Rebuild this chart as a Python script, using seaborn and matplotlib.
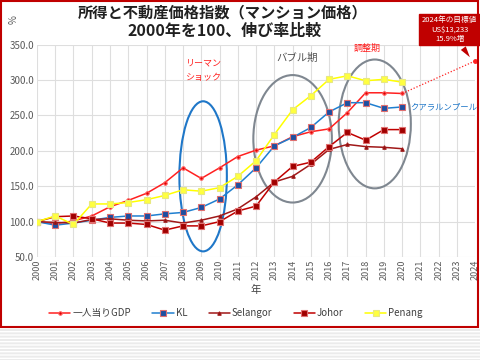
import pandas as pd
import matplotlib.pyplot as plt
import seaborn as sns
from matplotlib.patches import Ellipse, Rectangle

years = list(range(2000, 2021))
gdp = [100, 97, 101, 108, 121, 130, 140, 155, 176, 161, 176, 192, 201, 207, 220, 227, 231, 254, 282, 282, 281]
kl = [100, 95, 98, 102, 106, 108, 108, 111, 113, 120, 132, 152, 176, 207, 219, 233, 255, 268, 268, 260, 262]
selangor = [100, 99, 98, 103, 104, 102, 101, 102, 98, 102, 108, 118, 135, 156, 164, 181, 202, 209, 206, 205, 203]
johor = [100, 107, 108, 104, 98, 98, 96, 88, 94, 94, 100, 115, 122, 156, 178, 184, 206, 226, 215, 230, 230]
penang = [100, 108, 96, 125, 125, 127, 131, 137, 145, 143, 148, 164, 186, 223, 258, 278, 301, 306, 299, 301, 297]
target_years = [2020, 2024]
target_gdp = [281, 327]
xticks = list(range(2000, 2025))
yticks = [50, 100, 150, 200, 250, 300, 350]

series = {
    "一人当りGDP": gdp,
    "KL": kl,
    "Selangor": selangor,
    "Johor": johor,
    "Penang": penang,
}
styles = {
    "一人当りGDP": dict(color="#ff2020", marker="o", ms=2.5, mfc="#e00000", mec="#ff6060"),
    "KL": dict(color="#1f7fd0", marker="s", ms=4, mfc="#1f4fa0", mec="#e07070"),
    "Selangor": dict(color="#a01818", marker="^", ms=2.5, mfc="#801010", mec="#a01818"),
    "Johor": dict(color="#c00000", marker="s", ms=5, mfc="#a00000", mec="#e07070"),
    "Penang": dict(color="#ffff00", marker="s", ms=5, mfc="#ffff40", mec="#e8e880"),
}

sns.set_style("whitegrid")
plt.rcParams['font.family'] = ['Noto Sans CJK JP', 'DejaVu Sans']
plt.rcParams['hatch.linewidth'] = 1.0

fig = plt.figure(figsize=(4.8, 3.6), dpi=100)
ax = fig.add_axes([0.077, 0.286, 0.913, 0.59])

for name, vals in series.items():
    df = pd.DataFrame({"year": years, "value": vals})
    st = styles[name]
    sns.lineplot(data=df, x="year", y="value", ax=ax, color=st["color"], lw=1.1,
                 marker=st["marker"], markersize=st["ms"], markerfacecolor=st["mfc"],
                 markeredgecolor=st["mec"], markeredgewidth=0.8, label=name)

# dotted target extension
ax.plot(target_years, target_gdp, color="#ff2020", lw=0.9, ls=(0, (1, 1.5)))
ax.plot(target_years[-1:], target_gdp[-1:], "o", color="#ff2020", ms=2.5, clip_on=False)

ax.set_xlim(2000, 2024)
ax.set_ylim(50, 350)
ax.set_xticks(xticks)
ax.set_xticklabels([str(y) for y in xticks], rotation=90, fontsize=6.5, color="#595959")
ax.set_yticks(yticks)
ax.set_yticklabels([f"{v:.1f}" for v in yticks], fontsize=7, color="#595959")
ax.tick_params(length=0, pad=2)
ax.grid(True, color="#dedede", lw=0.8)
for s in ax.spines.values():
    s.set_visible(False)
ax.set_xlabel("年", fontsize=7.5, color="#404040", labelpad=3)
ax.set_ylabel("")

# ellipses
ax.add_patch(Ellipse((2009.1, 164), 2.6, 212, fill=False, ec="#1f77c8", lw=1.5))
ax.add_patch(Ellipse((2014.0, 217), 4.3, 180, fill=False, ec="#7f8790", lw=1.5))
ax.add_patch(Ellipse((2018.5, 238), 3.95, 182, fill=False, ec="#7f8790", lw=1.5))

# labels in plot
ax.text(2009.1, 324, "リーマン", color="#ff2020", fontsize=6.5, ha="center", va="center")
ax.text(2009.1, 303, "ショック", color="#ff2020", fontsize=6.5, ha="center", va="center")
ax.text(2014.25, 332, "バブル期", color="#505050", fontsize=7.5, ha="center", va="center")
ax.text(2018.1, 345, "調整期", color="#ff2020", fontsize=6.5, ha="center", va="center",
        clip_on=False)
ax.text(2020.45, 262, "クアラルンプール", color="#1f77c8", fontsize=6, ha="left", va="center",
        clip_on=False)

# target callout
ax.annotate("2024年の目標値\nUS$13,233\n15.9%増", xy=(2023.8, 329),
            xytext=(0.937, 0.918), textcoords="figure fraction",
            ha="center", va="center", fontsize=5.5, color="white", linespacing=1.2,
            bbox=dict(boxstyle="square,pad=0.35", fc="#c00000", ec="#c00000"),
            arrowprops=dict(arrowstyle="wedge,tail_width=0.8,shrink_factor=0.5",
                            fc="#c00000", ec="none"),
            annotation_clip=False)

# title and unit
fig.text(0.463, 0.965, "所得と不動産価格指数（マンション価格）", ha="center", va="center",
         fontsize=11, fontweight="bold", color="#202020")
fig.text(0.469, 0.915, "2000年を100、伸び率比較", ha="center", va="center",
         fontsize=11.5, fontweight="bold", color="#202020")
fig.text(0.028, 0.945, "%", ha="center", va="center", fontsize=7, color="#595959",
         rotation=90)

leg = ax.legend(loc="center", bbox_to_anchor=(0.454, -0.264), ncol=5, frameon=False,
                fontsize=7, handlelength=2.2, columnspacing=2.2, handletextpad=0.2)
for t in leg.get_texts():
    t.set_color("#404040")

# frame and striped lower background
fig.patches.append(Rectangle((0, 0), 1, 1 - 329 / 360, transform=fig.transFigure,
                             fc="#ebebeb", ec="white", hatch="-----", lw=0, zorder=0))
fig.patches.append(Rectangle((0.002, 1 - 327 / 360), 0.994, 327 / 360 - 0.002,
                             transform=fig.transFigure, fill=False, ec="#c00000", lw=1.5,
                             zorder=5))

fig.savefig("out.png", dpi=100)
